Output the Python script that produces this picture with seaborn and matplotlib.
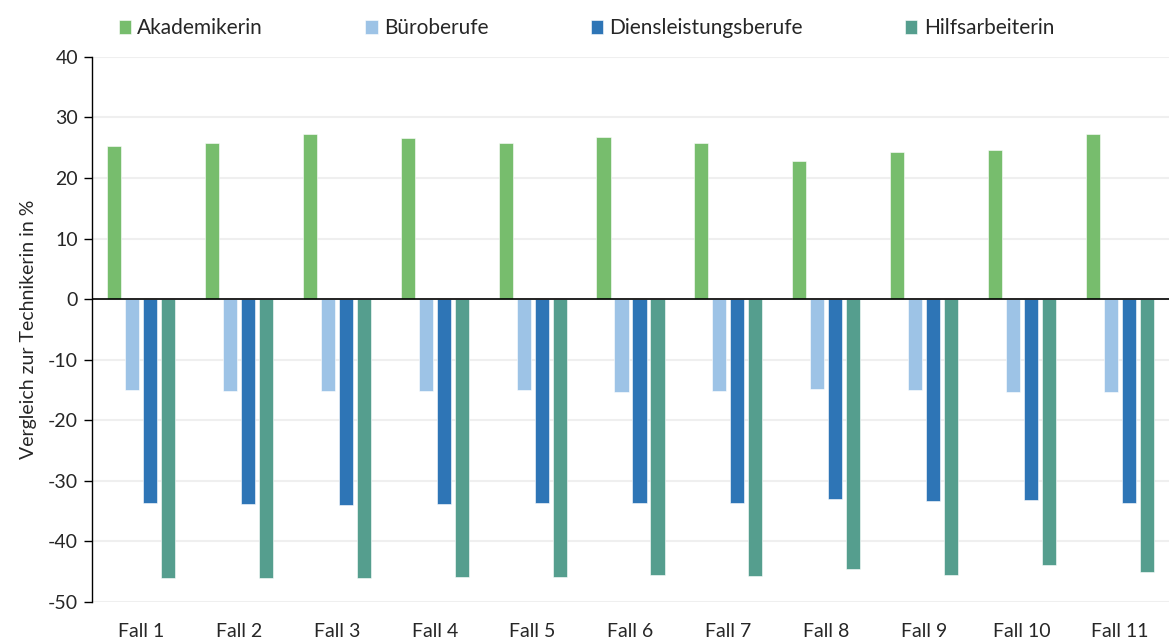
import pandas as pd
import seaborn as sns
import matplotlib.pyplot as plt

faelle = ['Fall 1', 'Fall 2', 'Fall 3', 'Fall 4', 'Fall 5', 'Fall 6',
          'Fall 7', 'Fall 8', 'Fall 9', 'Fall 10', 'Fall 11']
gruppen = ['Akademikerin', 'Büroberufe', 'Diensleistungsberufe', 'Hilfsarbeiterin']

akademikerin = [25.3, 25.8, 27.2, 26.6, 25.8, 26.7, 25.8, 22.8, 24.3, 24.7, 27.2]
bueroberufe = [-15.0, -15.1, -15.2, -15.1, -15.0, -15.3, -15.1, -14.9, -15.0, -15.3, -15.4]
dienstleistung = [-33.7, -33.8, -34.0, -33.8, -33.7, -33.7, -33.7, -33.0, -33.4, -33.1, -33.7]
hilfsarbeiterin = [-46.1, -46.1, -46.1, -45.9, -45.9, -45.6, -45.7, -44.6, -45.5, -43.9, -45.1]

farben = ['#77BD6D', '#9DC3E6', '#2E75B6', '#559E8E']

df = pd.DataFrame({'Akademikerin': akademikerin, 'Büroberufe': bueroberufe,
                   'Diensleistungsberufe': dienstleistung, 'Hilfsarbeiterin': hilfsarbeiterin},
                  index=faelle)
df = df.reset_index().melt(id_vars='index', var_name='gruppe', value_name='wert')

sns.set_style('white')
plt.rcParams['font.family'] = ['Lato', 'DejaVu Sans']
plt.rcParams['axes.unicode_minus'] = False

fig = plt.figure(figsize=(11.69, 6.39), dpi=100)
ax = fig.add_axes([0.0787, 0.058, 0.9213, 0.853])

sns.barplot(data=df, x='index', y='wert', hue='gruppe', hue_order=gruppen,
            palette=farben, saturation=1, width=0.735, gap=0.22, ax=ax,
            edgecolor='#ffffff', linewidth=0.4, legend=True)

ax.set_ylim(-50, 40)
ax.set_xlim(-0.5, 10.5)
ax.set_yticks(range(-50, 41, 10))
ax.yaxis.grid(True, color='#efefef', linewidth=1.5)
ax.set_axisbelow(True)
ax.axhline(0, color='black', linewidth=1.2)

for s in ['top', 'right', 'bottom']:
    ax.spines[s].set_visible(False)
ax.spines['left'].set_color('black')
ax.spines['left'].set_linewidth(1.0)

ax.tick_params(axis='y', which='major', left=True, length=6, width=1,
               color='black', labelsize=14, pad=4)
ax.tick_params(axis='x', bottom=False, labelsize=14, pad=12)

ax.set_xlabel('')
ax.set_ylabel('Vergleich zur Technikerin in %', fontsize=14, labelpad=8)

handles, labels = ax.get_legend_handles_labels()
ax.legend(handles, labels, loc='upper center', bbox_to_anchor=(0.459, 1.105),
          ncol=4, frameon=False, fontsize=15, handlelength=0.6, handleheight=0.6,
          handletextpad=0.3, columnspacing=4.9)

fig.savefig('out.png', dpi=100)
